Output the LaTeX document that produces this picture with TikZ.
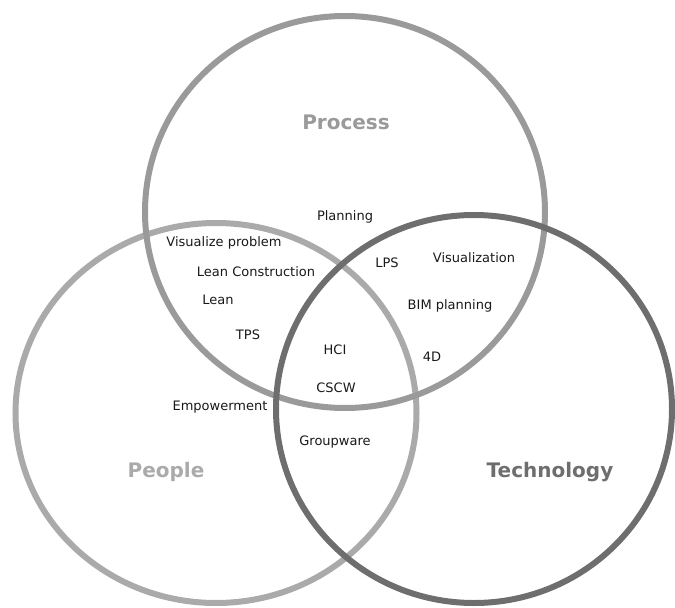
\documentclass[tikz,border=0pt]{standalone}
\usepackage{fontspec}
\setmainfont{DejaVu Sans}
\usepackage{xcolor}
\usepackage{tikz}
\usetikzlibrary{shapes.geometric}

\definecolor{processgray}{HTML}{9A9A9A}
\definecolor{peoplegray}{HTML}{AAAAAA}
\definecolor{techgray}{HTML}{6E6E6E}

\begin{document}
\begin{tikzpicture}[x = 1pt, y = -1pt]
            \tikzstyle{ring} = [ellipse, line width = 6pt, inner sep = 0pt, outer sep = 0pt];
            \tikzstyle{area} = [font = \bfseries\fontsize{20}{24}\selectfont];
            \tikzstyle{item} = [font = \fontsize{13}{15}\selectfont, text = black!90];
            \useasboundingbox (0, 0) rectangle (675, 608);

            % the three sets
            \node [ring, draw = peoplegray, minimum width = 401pt, minimum height = 380pt] (people) at (216, 413) {};
            \node [ring, draw = processgray, minimum width = 400pt, minimum height = 392pt] (process) at (345, 212) {};
            \node [ring, draw = techgray, minimum width = 396pt, minimum height = 388pt] (tech) at (474, 409) {};

            \node [area, text = processgray] (Lprocess) at (346, 122) {Process};
            \node [area, text = peoplegray] (Lpeople) at (166, 472) {People};
            \node [area, text = techgray] (Ltech) at (550, 472) {Technology};

            % items
            \node [item] (I0) at (345, 217) {Planning};
            \node [item] (I1) at (224, 243) {Visualize problem};
            \node [item] (I2) at (256, 272) {Lean Construction};
            \node [item] (I3) at (218, 300) {Lean};
            \node [item] (I4) at (248, 335) {TPS};
            \node [item] (I5) at (335, 350) {HCI};
            \node [item] (I6) at (336, 388) {CSCW};
            \node [item] (I7) at (387, 263) {LPS};
            \node [item] (I8) at (474, 258) {Visualization};
            \node [item] (I9) at (450, 306) {BIM planning};
            \node [item] (I10) at (432, 357) {4D};
            \node [item] (I11) at (220, 407) {Empowerment};
            \node [item] (I12) at (335, 442) {Groupware};
        \end{tikzpicture}
\end{document}
